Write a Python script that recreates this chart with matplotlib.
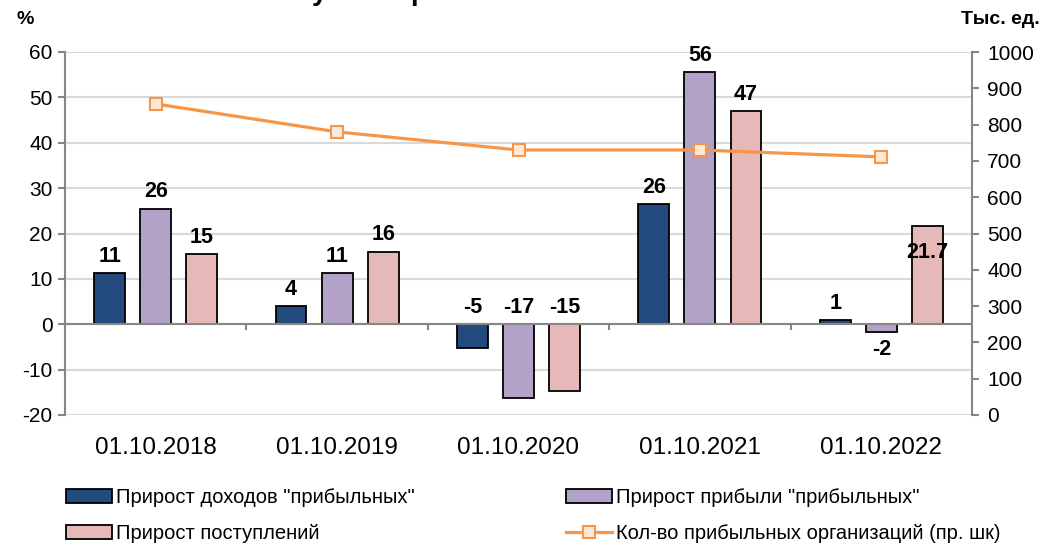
import numpy as np
import matplotlib
matplotlib.use("Agg")
import matplotlib.pyplot as plt
from matplotlib.patches import Patch
from matplotlib.lines import Line2D

plt.rcParams['font.family'] = ['Liberation Sans', 'DejaVu Sans']
plt.rcParams['axes.unicode_minus'] = False

# data
dates = ['01.10.2018', '01.10.2019', '01.10.2020', '01.10.2021', '01.10.2022']
income_growth = [11.2, 4.0, -5.3, 26.4, 1.0]
profit_growth = [25.5, 11.2, -16.3, 55.5, -1.8]
receipts_growth = [15.4, 16.0, -14.8, 46.9, 21.7]
income_labels = ['11', '4', '-5', '26', '1']
profit_labels = ['26', '11', '-17', '56', '-2']
receipts_labels = ['15', '16', '-15', '47', '21.7']
org_count = [857, 780, 730, 730, 711]

series_names = ['Прирост доходов "прибыльных"',
                'Прирост прибыли "прибыльных"',
                'Прирост поступлений']
line_name = 'Кол-во прибыльных организаций (пр. шк)'

c_blue = '#234A7C'
c_purple = '#B2A2C7'
c_pink = '#E6B9B8'
c_orange = '#F79646'
c_marker = '#FDE9D9'
c_grid = '#D9D9D9'
c_axis = '#868686'

W, H = 1045, 546
fig = plt.figure(figsize=(W / 100, H / 100), dpi=100)
ax = fig.add_axes([65 / W, 1 - 415 / H, (972 - 65) / W, (415 - 52) / H])
ax2 = ax.twinx()

x = np.arange(len(dates))
bw = 0.17
step = 0.254
series = [income_growth, profit_growth, receipts_growth]
labels = [income_labels, profit_labels, receipts_labels]
colors = [c_blue, c_purple, c_pink]

ax.set_xlim(-0.5, len(dates) - 0.5)
ax.set_ylim(-20, 60)
ax.set_yticks(np.arange(-20, 61, 10))
ax.yaxis.grid(True, color=c_grid, linewidth=1.5)
ax.set_axisbelow(True)

for i, (vals, labs, col) in enumerate(zip(series, labels, colors)):
    pos = x + (i - 1) * step
    ax.bar(pos, vals, width=bw, color=col, edgecolor='black', linewidth=1.3, zorder=3)
    for p, v, lab in zip(pos, vals, labs):
        if lab == '21.7':
            # Excel put this one inside the bar
            ax.annotate(lab, (p, v), xytext=(0, -19), textcoords='offset points',
                        ha='center', va='center', fontsize=15.5, fontweight='bold', zorder=5)
        elif lab == '-2':
            ax.annotate(lab, (p, v), xytext=(0, -12), textcoords='offset points',
                        ha='center', va='center', fontsize=15.5, fontweight='bold', zorder=5)
        else:
            ax.annotate(lab, (p, max(v, 0)), xytext=(0, 12), textcoords='offset points',
                        ha='center', va='center', fontsize=15.5, fontweight='bold', zorder=5)

# zero line with category separators
ax.axhline(0, color=c_axis, linewidth=1.5, zorder=4)
for b in np.arange(0.5, len(dates) - 0.5, 1):
    ax.plot([b, b], [0, -1.1], color=c_axis, linewidth=1.5, zorder=4, clip_on=False)

ax.set_xticks(x)
ax.set_xticklabels(dates, fontsize=17.5)
ax.tick_params(axis='x', length=0, pad=16)
ax.tick_params(axis='y', labelsize=15, length=5, color=c_axis, width=1.5, pad=4)

ax2.plot(x, org_count, color=c_orange, linewidth=2.3, marker='s', markersize=9,
         markerfacecolor=c_marker, markeredgecolor=c_orange, markeredgewidth=1.5, zorder=6)
ax2.set_ylim(0, 1000)
ax2.set_yticks(np.arange(0, 1001, 100))
ax2.tick_params(axis='y', labelsize=15, length=5, color=c_axis, width=1.5, pad=6)

for a in (ax, ax2):
    for s in ['top', 'bottom']:
        a.spines[s].set_visible(False)
    a.spines['left'].set_color(c_axis)
    a.spines['right'].set_color(c_axis)
    a.spines['left'].set_linewidth(1.5)
    a.spines['right'].set_linewidth(1.5)
ax.spines['right'].set_visible(False)
ax2.spines['left'].set_visible(False)

fig.text(25 / W, 1 - 20 / H, '%', fontsize=14, fontweight='bold', ha='center', va='center')
fig.text(1040 / W, 1 - 20 / H, 'Тыс. ед.', fontsize=14, fontweight='bold', ha='right', va='center')

# title is cropped off the top in the reference, only descenders show
fig.text(312 / W, 1 + 0.5 / H, 'у', fontsize=20, fontweight='bold', ha='left', va='baseline')
fig.text(410 / W, 1 + 0.5 / H, 'р', fontsize=20, fontweight='bold', ha='left', va='baseline')

# legend in two anchored columns
bar_handles = [Patch(facecolor=c, edgecolor='black', linewidth=1.3) for c in colors]
line_handle = Line2D([], [], color=c_orange, linewidth=2.3, marker='s', markersize=9,
                     markerfacecolor=c_marker, markeredgecolor=c_orange, markeredgewidth=1.5)
leg_kw = dict(frameon=False, fontsize=14.5, handlelength=2.3, handleheight=0.65,
              handletextpad=0.2, labelspacing=0.85, loc='upper left', borderaxespad=0)
leg1 = fig.legend([bar_handles[0], bar_handles[2]], [series_names[0], series_names[2]],
                  bbox_to_anchor=(58 / W, 1 - 480 / H), **leg_kw)
leg2 = fig.legend([bar_handles[1], line_handle], [series_names[1], line_name],
                  bbox_to_anchor=(558 / W, 1 - 480 / H), **leg_kw)

fig.savefig('out.png', dpi=100)
